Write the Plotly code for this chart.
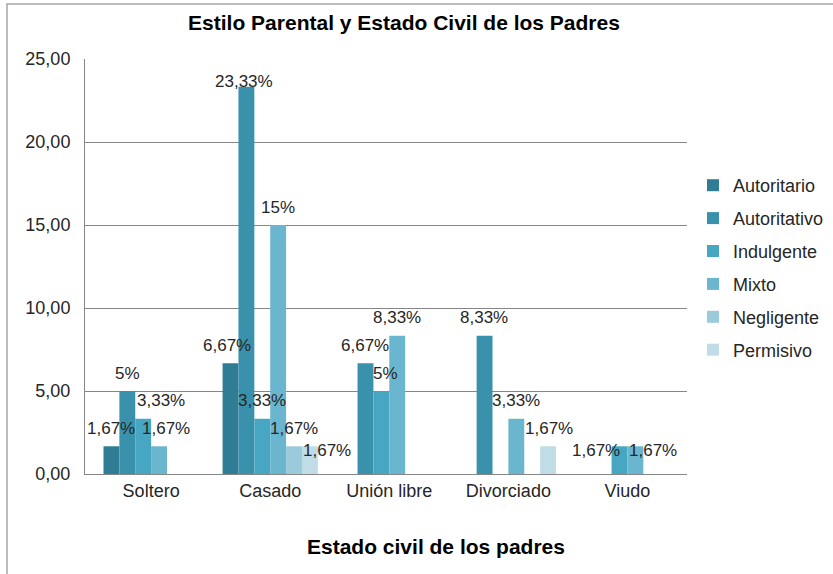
import plotly.graph_objects as go

# ---------------- data ----------------
categorias = ["Soltero", "Casado", "Unión libre", "Divorciado", "Viudo"]
estilos = ["Autoritario", "Autoritativo", "Indulgente", "Mixto", "Negligente", "Permisivo"]
autoritario = [1.67, 6.67, 0, 0, 0]
autoritativo = [5, 23.33, 6.67, 8.33, 0]
indulgente = [3.33, 3.33, 5, 0, 1.67]
mixto = [1.67, 15, 8.33, 3.33, 1.67]
negligente = [0, 1.67, 0, 0, 0]
permisivo = [0, 1.67, 0, 1.67, 0]
series = [autoritario, autoritativo, indulgente, mixto, negligente, permisivo]
y_ticks = [0, 5, 10, 15, 20, 25]

# ---------------- styles ----------------
colores = ["#2E7D94", "#3A91AC", "#47A6C1", "#6AB6CE", "#9BCADB", "#C0DCE6"]
FONT = "Liberation Sans, Arial, sans-serif"
TXT = "#262626"
# manual label nudges (pixels) keyed by (series index, category index)
nudge = {
    (2, 0): (18, 0), (3, 0): (7, 0),
    (0, 1): (-3, 0), (1, 1): (-2, -13), (5, 1): (17, -22),
    (2, 2): (4, 0),
    (2, 4): (-23, -22), (3, 4): (18, -22),
}

W, H = 833, 574
ML, MR, MT, MB = 85, 146, 59, 100
plot_w = W - ML - MR
plot_h = H - MT - MB
bar_px = plot_w / len(categorias) * 0.8 / len(series)

fig = go.Figure()
for s, (name, vals) in enumerate(zip(estilos, series)):
    fig.add_trace(go.Bar(
        name=name, x=categorias, y=vals,
        marker=dict(color=colores[s], line=dict(width=0)),
        legendgroup=name,
    ))

annotations = []
for s, vals in enumerate(series):
    for c, v in enumerate(vals):
        if not v:
            continue
        dx, dy = nudge.get((s, c), (0, 0))
        annotations.append(dict(
            x=categorias[c], y=v, xref="x", yref="y",
            text=f"{v:g}".replace(".", ",") + "%",
            showarrow=False, xanchor="center", yanchor="middle",
            xshift=(s - 2.5) * bar_px + dx, yshift=18 + dy,
            font=dict(family=FONT, size=17, color=TXT),
        ))

annotations.append(dict(
    x=(436 - ML) / plot_w, y=-(546 - (H - MB)) / plot_h,
    xref="paper", yref="paper", text="<b>Estado civil de los padres</b>",
    showarrow=False, xanchor="center", yanchor="middle",
    font=dict(family=FONT, size=21, color="#000000"),
))

fig.update_layout(
    width=W, height=H,
    margin=dict(l=ML, r=MR, t=MT, b=MB, pad=0, autoexpand=False),
    paper_bgcolor="white", plot_bgcolor="white",
    separators=",.",
    barmode="group", bargap=0.2, bargroupgap=0,
    title=dict(text="<b>Estilo Parental y Estado Civil de los Padres</b>",
               x=404 / W, xanchor="center", xref="container",
               y=1 - 23 / H, yanchor="middle", yref="container",
               font=dict(family=FONT, size=21, color="#000000")),
    font=dict(family=FONT, size=18, color=TXT),
    xaxis=dict(showline=True, linecolor="#868686", linewidth=1, ticks="",
               tickfont=dict(family=FONT, size=18, color=TXT),
               showgrid=False, ticklabelstandoff=0),
    yaxis=dict(range=[0, 25], tickvals=y_ticks, tickformat=".2f",
               showgrid=True, gridcolor="#868686", gridwidth=1,
               showline=True, linecolor="#868686", linewidth=1,
               ticks="", ticklabelstandoff=10, zeroline=False,
               tickfont=dict(family=FONT, size=18, color=TXT)),
    legend=dict(x=(693 - ML) / plot_w, xanchor="left",
                y=1 - (167 - MT) / plot_h, yanchor="top",
                font=dict(family=FONT, size=18, color=TXT),
                tracegroupgap=6.5, itemwidth=30, bgcolor="rgba(0,0,0,0)"),
    annotations=annotations,
    shapes=[dict(type="rect", xref="paper", yref="paper",
                 x0=(7 - ML) / plot_w, x1=(W + 10 - ML) / plot_w,
                 y0=-(H + 10 - (H - MB)) / plot_h,
                 y1=1 + (MT - 4) / plot_h,
                 line=dict(color="#A6A6A6", width=1.5), layer="below")],
)

fig.write_html("out.html")
